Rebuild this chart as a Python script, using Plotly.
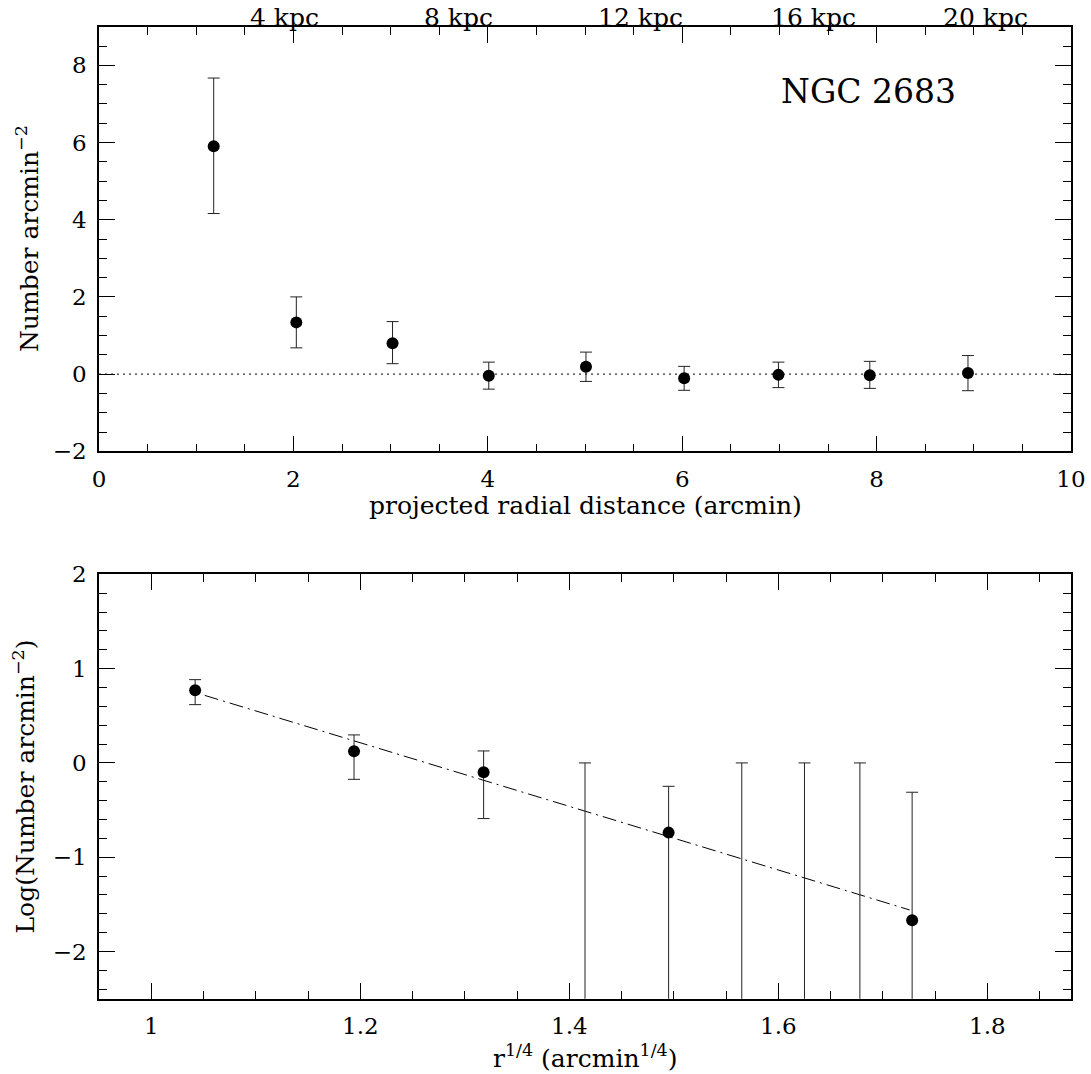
import plotly.graph_objects as go

# ---------------- data: top panel (linear) ----------------
r_arcmin = [1.18, 2.03, 3.02, 4.01, 5.01, 6.02, 6.99, 7.93, 8.94]
density = [5.90, 1.34, 0.80, -0.04, 0.19, -0.11, -0.02, -0.03, 0.03]
density_hi = [7.67, 2.00, 1.36, 0.31, 0.57, 0.20, 0.31, 0.33, 0.48]
density_lo = [4.16, 0.68, 0.27, -0.39, -0.19, -0.42, -0.35, -0.37, -0.43]

kpc_labels = ["4 kpc", "8 kpc", "12 kpc", "16 kpc", "20 kpc"]
kpc_label_x = [1.91, 3.70, 5.57, 7.35, 9.12]

# ---------------- data: bottom panel (log vs r^1/4) ----------------
r14_det = [1.042, 1.194, 1.318, 1.495, 1.728]
log_det = [0.77, 0.123, -0.10, -0.739, -1.668]
log_det_hi = [0.883, 0.297, 0.127, -0.248, -0.311]
log_det_lo = [0.618, -0.174, -0.59, -9.0, -9.0]   # -9 = extends below axis

r14_lim = [1.415, 1.565, 1.625, 1.678]
log_lim_hi = [0.0, 0.0, 0.0, 0.0]
log_lim_lo = [-9.0, -9.0, -9.0, -9.0]

fit_x = [1.0512, 1.7256]
fit_y = [0.716, -1.559]

FONT = "DejaVu Serif"
W, H = 1091, 1074
ERRC = "#222222"

fig = go.Figure()

# top panel points
fig.add_trace(go.Scatter(
    x=r_arcmin, y=density, mode="markers",
    marker=dict(color="black", size=12),
    error_y=dict(type="data", symmetric=False,
                 array=[h - v for h, v in zip(density_hi, density)],
                 arrayminus=[v - l for v, l in zip(density, density_lo)],
                 color=ERRC, thickness=1, width=6),
    xaxis="x", yaxis="y", showlegend=False))

# bottom panel fit line
fig.add_trace(go.Scatter(
    x=fit_x, y=fit_y, mode="lines",
    line=dict(color="black", width=1, dash="14px,5px,2px,5px"),
    xaxis="x2", yaxis="y2", showlegend=False))

# bottom panel detections
fig.add_trace(go.Scatter(
    x=r14_det, y=log_det, mode="markers",
    marker=dict(color="black", size=12),
    error_y=dict(type="data", symmetric=False,
                 array=[h - v for h, v in zip(log_det_hi, log_det)],
                 arrayminus=[v - l for v, l in zip(log_det, log_det_lo)],
                 color=ERRC, thickness=1, width=6),
    xaxis="x2", yaxis="y2", showlegend=False))

# bottom panel upper limits (bars only)
fig.add_trace(go.Scatter(
    x=r14_lim, y=log_lim_lo, mode="markers",
    marker=dict(color="rgba(0,0,0,0)", size=1),
    error_y=dict(type="data", symmetric=False,
                 array=[h - l for h, l in zip(log_lim_hi, log_lim_lo)],
                 arrayminus=[0, 0, 0, 0],
                 color=ERRC, thickness=1, width=6),
    xaxis="x2", yaxis="y2", showlegend=False))

xdom = [99 / W, 1071 / W]
top_dom = [1 - 451.3 / H, 1 - 26.7 / H]
bot_dom = [1 - 998.7 / H, 1 - 574.3 / H]

tickfont = dict(family=FONT, size=23, color="black")
common = dict(showline=True, linecolor="black", linewidth=1.6, mirror="allticks",
              ticks="inside", ticklen=16, tickwidth=1, tickcolor="black",
              showgrid=False, zeroline=False, tickfont=tickfont,
              ticklabelstandoff=6, automargin=False)
minor_common = dict(ticklen=8, tickwidth=1, tickcolor="black", ticks="inside")

fig.update_layout(
    width=W, height=H, margin=dict(l=0, r=0, t=0, b=0),
    paper_bgcolor="white", plot_bgcolor="white",
    font=dict(family=FONT, color="black"),
    xaxis=dict(domain=xdom, anchor="y", range=[0, 10], tick0=0, dtick=2,
               minor=dict(dtick=0.5, **minor_common), **common),
    yaxis=dict(domain=top_dom, anchor="x", range=[-2, 9], tick0=0, dtick=2,
               minor=dict(dtick=0.5, **minor_common), **common),
    xaxis2=dict(domain=xdom, anchor="y2", range=[0.95, 1.88], tick0=1.0, dtick=0.2,
                minor=dict(dtick=0.05, **minor_common), **common),
    yaxis2=dict(domain=bot_dom, anchor="x2", range=[-2.5, 2], tick0=0, dtick=1,
                minor=dict(dtick=0.2, **minor_common), **common),
)

# dotted zero line in top panel
fig.add_shape(type="line", xref="x domain", yref="y", x0=0, x1=1, y0=0, y1=0,
              line=dict(color="black", width=1, dash="2px,4px"))

ann = []
TSIZE = 25
# axis titles
ann.append(dict(text="projected radial distance (arcmin)", xref="paper", yref="paper",
                x=(xdom[0] + xdom[1]) / 2, y=1 - 505 / H, showarrow=False,
                xanchor="center", yanchor="middle", font=dict(family=FONT, size=TSIZE)))
ann.append(dict(text="Number arcmin<sup>−2</sup>", xref="paper", yref="paper",
                x=27 / W, y=(top_dom[0] + top_dom[1]) / 2, showarrow=False, textangle=-90,
                xanchor="center", yanchor="middle", font=dict(family=FONT, size=TSIZE)))
ann.append(dict(text="r<sup>1/4</sup> (arcmin<sup>1/4</sup>)", xref="paper", yref="paper",
                x=(xdom[0] + xdom[1]) / 2, y=1 - 1056 / H, showarrow=False,
                xanchor="center", yanchor="middle", font=dict(family=FONT, size=TSIZE)))
ann.append(dict(text="Log(Number arcmin<sup>−2</sup>)", xref="paper", yref="paper",
                x=24 / W, y=(bot_dom[0] + bot_dom[1]) / 2, showarrow=False, textangle=-90,
                xanchor="center", yanchor="middle", font=dict(family=FONT, size=TSIZE)))
# galaxy label
ann.append(dict(text="NGC 2683", xref="x", yref="y", x=7.92, y=7.32, showarrow=False,
                xanchor="center", yanchor="middle", font=dict(family=FONT, size=33)))
# kpc labels along top axis
for lab, xv in zip(kpc_labels, kpc_label_x):
    ann.append(dict(text=lab, xref="x", yref="paper", x=xv, y=top_dom[1], showarrow=False,
                    xanchor="center", yanchor="bottom", yshift=-7,
                    font=dict(family=FONT, size=25)))

fig.update_layout(annotations=ann)

fig.write_html("out.html", config={"displayModeBar": False},
               post_script="document.body.style.margin='0';document.body.style.overflow='hidden';")
